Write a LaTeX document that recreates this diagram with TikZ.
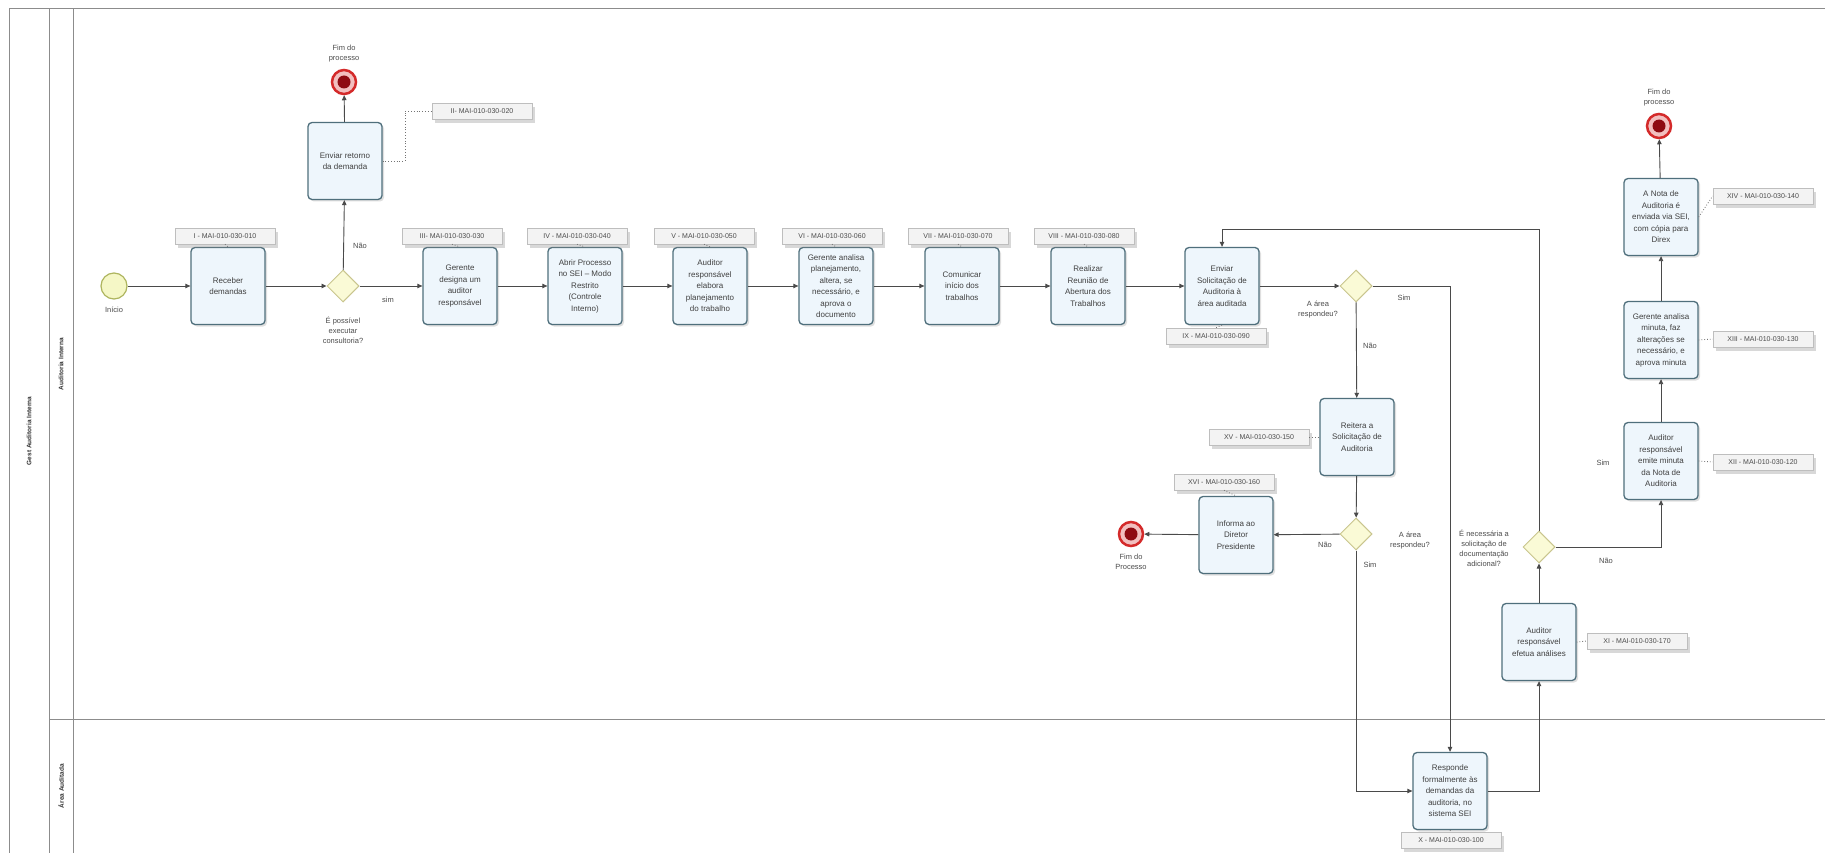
\documentclass[tikz,border=0pt]{standalone}
\usepackage{fontspec}
\setmainfont{Liberation Sans}
\usetikzlibrary{arrows.meta,shapes.geometric,shadows,positioning}
\definecolor{taskdraw}{HTML}{4F6F7C}
\definecolor{taskfill}{HTML}{EEF6FC}
\definecolor{gwfill}{HTML}{FAFAD6}
\definecolor{gwdraw}{HTML}{C9C58E}
\definecolor{lanecol}{HTML}{8C8C8C}
\definecolor{flowcol}{HTML}{4A4A4A}
\definecolor{refill}{HTML}{F3F3F3}
\definecolor{redge}{HTML}{BEBEBE}
\definecolor{endring}{HTML}{D42A2A}
\definecolor{endcore}{HTML}{8E0B12}
\definecolor{startfill}{HTML}{F5F7C6}
\definecolor{startdraw}{HTML}{AEB55E}
\begin{document}
\begin{tikzpicture}[x=1pt,y=-1pt,
 task/.style={draw=taskdraw, line width=1.3pt, fill=taskfill, rounded corners=4pt, minimum width=74pt, minimum height=77pt, inner sep=1pt, align=center, font=\fontsize{8}{11.5}\selectfont, text=black!75, drop shadow={shadow xshift=2pt, shadow yshift=-2pt, opacity=0.25}},
 gw/.style={diamond, aspect=1, draw=gwdraw, line width=1pt, fill=gwfill, minimum width=32pt, minimum height=32pt, inner sep=0pt},
 ref/.style={draw=redge, line width=0.6pt, fill=refill, minimum width=100pt, minimum height=16pt, inner sep=1pt, font=\fontsize{7}{8}\selectfont, text=black!70, drop shadow={shadow xshift=3pt, shadow yshift=-4pt, opacity=0.3}},
 flow/.style={draw=flowcol, line width=0.9pt, -{Triangle[length=5pt,width=4.5pt]}},
 assoc/.style={draw=black!55, line width=0.8pt, dotted},
 lbl/.style={font=\fontsize{7.5}{10}\selectfont, text=black!70, align=center},
 endev/.style={circle, minimum size=24pt, inner sep=0pt, draw=endring, line width=2.5pt, fill=endring!30, path picture={\fill[endcore] (path picture bounding box.center) circle[radius=6.5pt];}},
 startev/.style={circle, minimum size=26pt, inner sep=0pt, draw=startdraw, line width=1.2pt, fill=startfill},
 lane/.style={draw=lanecol, line width=1pt},
 lanelbl/.style={rotate=90, font=\bfseries\fontsize{6.5}{8}\selectfont, text=black!80}
]
\useasboundingbox (0,0) rectangle (1825,853);
\fill[white] (0,0) rectangle (1825,853);
% pool and lanes
\draw[lane] (1830,9) -- (9,9) -- (9,860);
\draw[lane] (49,9) -- (49,860);
\draw[lane] (73,9) -- (73,860);
\draw[lane] (49,719) -- (1830,719);
\node[lanelbl] (pool) at (29,431) {Gest Auditoria Interna};
\node[lanelbl] (lane1) at (61,364) {Auditoria Interna};
\node[lanelbl] (lane2) at (61,786) {Área Auditada};

% events
\node[startev] (s) at (114,286) {};
\node[lbl, below=4pt of s] (slbl) {Início};
\node[endev] (e1) at (344,82) {};
\node[lbl, above=3pt of e1] (e1lbl) {Fim do\\processo};
\node[endev] (e2) at (1131,534) {};
\node[lbl, below=3pt of e2] (e2lbl) {Fim do\\Processo};
\node[endev] (e3) at (1659,126) {};
\node[lbl, above=3pt of e3] (e3lbl) {Fim do\\processo};

% tasks
\node[task] (t1) at (228,286) {Receber\\demandas};
\node[task] (t2) at (345,161) {Enviar retorno\\da demanda};
\node[task] (t3) at (460,286) {Gerente\\designa um\\auditor\\responsável};
\node[task] (t4) at (585,286) {Abrir Processo\\no SEI – Modo\\Restrito\\(Controle\\Interno)};
\node[task] (t5) at (710,286) {Auditor\\responsável\\elabora\\planejamento\\do trabalho};
\node[task] (t6) at (836,286) {Gerente analisa\\planejamento,\\altera, se\\necessário, e\\aprova o\\documento};
\node[task] (t7) at (962,286) {Comunicar\\início dos\\trabalhos};
\node[task] (t8) at (1088,286) {Realizar\\Reunião de\\Abertura dos\\Trabalhos};
\node[task] (t9) at (1222,286) {Enviar\\Solicitação de\\Auditoria à\\área auditada};
\node[task] (t15) at (1357,437) {Reitera a\\Solicitação de\\Auditoria};
\node[task] (t16) at (1236,535) {Informa ao\\Diretor\\Presidente};
\node[task] (t10) at (1450,791) {Responde\\formalmente às\\demandas da\\auditoria, no\\sistema SEI};
\node[task] (t11) at (1539,642) {Auditor\\responsável\\efetua análises};
\node[task] (t12) at (1661,461) {Auditor\\responsável\\emite minuta\\da Nota de\\Auditoria};
\node[task] (t13) at (1661,340) {Gerente analisa\\minuta, faz\\alterações se\\necessário, e\\aprova minuta};
\node[task] (t14) at (1661,217) {A Nota de\\Auditoria é\\enviada via SEI,\\com cópia para\\Direx};

% gateways
\node[gw] (g1) at (343,286) {};
\node[gw] (g2) at (1356,286) {};
\node[gw] (g3) at (1356,534) {};
\node[gw] (g4) at (1539,547) {};
\node[lbl] (g1lbl) at (343,330) {É possível\\executar\\consultoria?};
\node[lbl] (g2lbl) at (1318,310) {A área\\respondeu?};
\node[lbl] (g3lbl) at (1410,541) {A área\\respondeu?};
\node[lbl] (g4lbl) at (1484,548) {É necessária a\\solicitação de\\documentação\\adicional?};

% reference labels
\node[ref] (L1) at (225,236) {I - MAI-010-030-010};
\node[ref] (L2) at (482,111) {II- MAI-010-030-020};
\node[ref] (L3) at (452,236) {III- MAI-010-030-030};
\node[ref] (L4) at (577,236) {IV - MAI-010-030-040};
\node[ref] (L5) at (704,236) {V - MAI-010-030-050};
\node[ref] (L6) at (832,236) {VI - MAI-010-030-060};
\node[ref] (L7) at (958,236) {VII - MAI-010-030-070};
\node[ref] (L8) at (1084,236) {VIII - MAI-010-030-080};
\node[ref] (L9) at (1216,336) {IX - MAI-010-030-090};
\node[ref] (L15) at (1259,437) {XV - MAI-010-030-150};
\node[ref] (L16) at (1224,482) {XVI - MAI-010-030-160};
\node[ref] (L10) at (1451,840) {X - MAI-010-030-100};
\node[ref] (L11) at (1637,641) {XI - MAI-010-030-170};
\node[ref] (L12) at (1763,462) {XII - MAI-010-030-120};
\node[ref] (L13) at (1763,339) {XIII - MAI-010-030-130};
\node[ref] (L14) at (1763,196) {XIV - MAI-010-030-140};

% associations
\draw[assoc] (L1.south) -- (t1.north);
\draw[assoc] (L3.south) -- (t3.north);
\draw[assoc] (L4.south) -- (t4.north);
\draw[assoc] (L5.south) -- (t5.north);
\draw[assoc] (L6.south) -- (t6.north);
\draw[assoc] (L7.south) -- (t7.north);
\draw[assoc] (L8.south) -- (t8.north);
\draw[assoc] (t9.south) -- (L9.north);
\draw[assoc] (t2.east) -- (405,161) -- (405,111) -- (L2.west);
\draw[assoc] (L15.east) -- (t15.west);
\draw[assoc] (L16.south) -- (t16.north);
\draw[assoc] (t10.south) -- (L10.north);
\draw[assoc] (t11.east) -- (L11.west);
\draw[assoc] (t12.east) -- (L12.west);
\draw[assoc] (t13.east) -- (L13.west);
\draw[assoc] (t14.east) -- (L14.west);

% sequence flows
\draw[flow] (s) -- (t1);
\draw[flow] (t1) -- (g1);
\draw[flow] (g1) -- (t3);
\draw[flow] (g1) -- (t2);
\draw[flow] (t2) -- (e1);
\draw[flow] (t3) -- (t4);
\draw[flow] (t4) -- (t5);
\draw[flow] (t5) -- (t6);
\draw[flow] (t6) -- (t7);
\draw[flow] (t7) -- (t8);
\draw[flow] (t8) -- (t9);
\draw[flow] (t9) -- (g2);
\draw[flow] (g2.east) -- (t10.north |- g2.east) -- (t10.north);
\draw[flow] (g2) -- (t15);
\draw[flow] (t15) -- (g3);
\draw[flow] (g3) -- (t16);
\draw[flow] (t16) -- (e2);
\draw[flow] (g3.south) -- (g3.south |- t10.west) -- (t10.west);
\draw[flow] (t10.east) -- (t11.south |- t10.east) -- (t11.south);
\draw[flow] (t11) -- (g4);
\draw[flow] (g4.north) -- (1539,229) -- (1222,229) -- (t9.north);
\draw[flow] (g4.east) -- (t12.south |- g4.east) -- (t12.south);
\draw[flow] (t12) -- (t13);
\draw[flow] (t13) -- (t14);
\draw[flow] (t14) -- (e3);

% flow labels
\node[lbl] (n1) at (360,246) {Não};
\node[lbl] (n2) at (388,300) {sim};
\node[lbl] (n3) at (1404,298) {Sim};
\node[lbl] (n4) at (1370,346) {Não};
\node[lbl] (n5) at (1325,545) {Não};
\node[lbl] (n6) at (1370,565) {Sim};
\node[lbl] (n7) at (1606,561) {Não};
\node[lbl] (n8) at (1603,463) {Sim};
\end{tikzpicture}
\end{document}
